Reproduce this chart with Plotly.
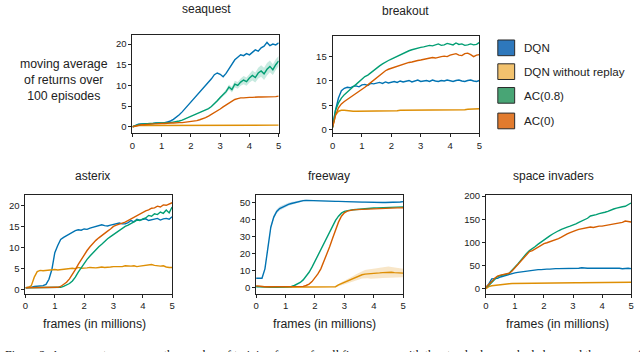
import plotly.graph_objects as go

# ---------------- data ----------------
frames = [round(i * 0.1, 1) for i in range(51)]  # frames (in millions)

series_names = ["DQN", "DQN without replay", "AC(0.8)", "AC(0)"]
line_colors = ["#0173B2", "#DE8F05", "#029E73", "#D55E00"]
swatch_colors = ["#2E78BC", "#F2C26E", "#48A575", "#E27B2E"]

game_titles = ["seaquest", "breakout", "asterix", "freeway", "space invaders"]

# seaquest
sq_dqn = [0.0, 0.4, 0.6, 0.7, 0.7, 0.8, 0.8, 0.8, 0.9, 0.9,
          1.0, 1.0, 1.2, 1.4, 1.8, 2.3, 2.9, 3.6, 4.4, 5.2,
          6.0, 6.8, 7.6, 8.3, 9.0, 9.8, 10.6, 11.6, 12.6, 13.0,
          12.7, 12.1, 12.9, 14.0, 15.2, 16.2, 16.8, 17.4, 17.2, 17.7,
          17.4, 18.0, 18.6, 18.3, 19.1, 19.5, 20.4, 19.6, 20.0, 19.8,
          20.3]
sq_norep = [0.0, 0.2, 0.3, 0.3, 0.3, 0.3, 0.3, 0.3, 0.3, 0.3,
            0.3, 0.3, 0.3, 0.3, 0.3, 0.3, 0.3, 0.3, 0.3, 0.3,
            0.3, 0.3, 0.3, 0.3, 0.3, 0.3, 0.3, 0.3, 0.3, 0.3,
            0.3, 0.3, 0.3, 0.3, 0.3, 0.3, 0.3, 0.3, 0.4, 0.4,
            0.4, 0.4, 0.4, 0.4, 0.4, 0.4, 0.4, 0.4, 0.4, 0.4,
            0.4]
sq_ac08 = [0.0, 0.3, 0.5, 0.6, 0.7, 0.7, 0.8, 0.8, 0.9, 0.9,
           0.9, 1.0, 1.0, 1.0, 1.1, 1.2, 1.4, 1.6, 1.9, 2.2,
           2.5, 2.8, 3.1, 3.4, 3.7, 4.0, 4.4, 4.9, 5.5, 6.3,
           7.1, 7.8, 8.5, 9.6, 9.0, 10.3, 10.0, 10.8, 11.3, 10.9,
           11.8, 12.4, 11.9, 13.0, 13.5, 12.8, 13.9, 14.6, 13.8, 15.0,
           15.9]
sq_ac08_err = [0, 0, 0, 0, 0, 0, 0, 0, 0, 0,
               0, 0, 0, 0, 0, 0, 0, 0, 0, 0,
               0, 0, 0, 0, 0, 0, 0, 0.1, 0.2, 0.3,
               0.3, 0.4, 0.5, 0.6, 0.7, 0.8, 0.8, 0.9, 1.0, 1.0,
               1.1, 1.2, 1.2, 1.3, 1.4, 1.5, 1.5, 1.4, 1.3, 1.3,
               1.2]
sq_ac0 = [0.0, 0.2, 0.4, 0.5, 0.5, 0.6, 0.6, 0.7, 0.7, 0.8,
          0.8, 0.8, 0.9, 0.9, 0.9, 1.0, 1.0, 1.0, 1.1, 1.1,
          1.2, 1.3, 1.5, 1.7, 1.9, 2.2, 2.6, 3.0, 3.4, 3.8,
          4.3, 4.8, 5.3, 5.8, 6.2, 6.6, 6.8, 7.0, 7.0, 7.1,
          7.1, 7.1, 7.2, 7.2, 7.2, 7.2, 7.3, 7.3, 7.3, 7.3,
          7.4]

# breakout
bo_dqn = [0.5, 4.0, 6.5, 8.0, 8.5, 8.7, 8.6, 8.9, 9.0, 8.8,
          9.2, 9.3, 9.1, 9.5, 9.4, 9.6, 9.7, 9.5, 9.8, 9.6,
          9.8, 9.9, 9.7, 10.0, 9.8, 9.9, 10.1, 9.8, 10.0, 10.2,
          9.9, 10.0, 10.1, 9.9, 10.2, 10.0, 9.9, 10.1, 10.0, 10.2,
          10.0, 9.9, 10.1, 10.2, 10.0, 9.9, 10.1, 10.2, 10.0, 9.9,
          10.1]
bo_norep = [0.5, 3.0, 3.8, 4.0, 4.0, 3.9, 3.8, 3.8, 3.8, 3.8,
            3.8, 3.8, 3.8, 3.8, 3.9, 3.9, 3.9, 3.9, 3.9, 3.9,
            3.9, 3.9, 3.9, 4.0, 4.0, 4.0, 4.0, 4.0, 4.0, 4.0,
            4.0, 4.0, 4.0, 4.0, 4.0, 4.0, 4.1, 4.1, 4.1, 4.1,
            4.1, 4.1, 4.1, 4.1, 4.1, 4.1, 4.2, 4.2, 4.3, 4.3,
            4.3]
bo_ac08 = [0.5, 4.0, 5.5, 6.5, 7.2, 7.8, 8.3, 8.8, 9.3, 9.8,
           10.5, 10.9, 11.2, 11.7, 12.1, 12.6, 13.1, 13.5, 13.9, 14.2,
           14.5, 14.8, 15.1, 15.4, 15.7, 15.9, 16.2, 16.4, 16.6, 16.8,
           16.9, 17.0, 17.1, 17.3, 17.2, 17.4, 17.6, 17.3, 17.4, 17.7,
           17.6, 17.4, 17.8, 17.5, 17.6, 17.3, 17.4, 17.6, 17.4, 17.5,
           17.9]
bo_ac0 = [0.5, 3.0, 4.5, 5.3, 5.8, 6.2, 6.6, 7.0, 7.4, 7.9,
          8.3, 8.7, 9.2, 9.7, 10.2, 10.6, 11.2, 11.7, 12.1, 12.4,
          12.6, 12.9, 13.1, 13.2, 13.4, 13.6, 13.8, 13.9, 14.1, 14.2,
          14.3, 14.4, 14.5, 14.7, 14.8, 14.7, 14.9, 15.0, 15.1, 15.0,
          15.3, 15.4, 15.6, 15.3, 15.2, 15.6, 15.7, 15.4, 15.0, 15.3,
          15.4]

# asterix
ax_dqn = [0.5, 0.5, 0.6, 0.8, 0.9, 1.0, 1.0, 1.3, 2.5, 4.8,
          8.8, 10.5, 11.9, 12.4, 12.8, 13.3, 13.6, 14.0, 14.2, 14.1,
          14.4, 14.3, 14.6, 14.8, 14.9, 15.1, 15.4, 15.2, 15.1, 15.3,
          15.5, 15.7, 15.8, 15.6, 15.6, 15.9, 16.4, 16.1, 16.7, 16.5,
          16.6, 16.8, 16.4, 16.6, 16.8, 16.9, 16.5, 16.8, 16.9, 16.7,
          17.3]
ax_norep = [0.5, 0.6, 1.0, 3.0, 4.3, 4.6, 4.5, 4.6, 4.6, 4.7,
            4.8, 4.7, 4.8, 4.9, 4.9, 5.0, 5.1, 5.0, 5.3, 5.1,
            5.1, 5.2, 5.3, 5.2, 5.2, 5.3, 5.4, 5.3, 5.3, 5.4,
            5.5, 5.5, 5.4, 5.5, 5.7, 5.6, 5.6, 5.7, 5.5, 5.6,
            5.7, 5.8, 5.9, 6.0, 5.8, 5.7, 5.6, 5.7, 5.4, 5.3,
            5.3]
ax_ac08 = [0.5, 0.5, 0.5, 0.5, 0.5, 0.6, 0.6, 0.6, 0.6, 0.6,
           0.6, 0.6, 0.6, 0.8, 1.1, 1.5, 2.1, 3.0, 4.2, 5.3,
           6.2, 7.2, 8.0, 8.8, 9.5, 10.2, 10.8, 11.5, 12.1, 12.6,
           13.1, 13.5, 14.1, 14.4, 15.0, 15.3, 15.8, 16.1, 16.5, 16.4,
           16.8, 17.0, 17.6, 17.4, 18.0, 17.8, 18.4, 18.1, 18.9, 18.2,
           19.6]
ax_ac0 = [0.5, 0.5, 0.5, 0.5, 0.5, 0.6, 0.6, 0.6, 0.6, 0.6,
          0.6, 0.6, 0.8, 1.2, 1.8, 2.6, 3.6, 4.8, 6.0, 7.2,
          8.4, 9.3, 10.2, 11.0, 11.7, 12.3, 12.9, 13.4, 13.9, 14.4,
          15.0, 15.3, 15.6, 15.8, 16.0, 16.4, 16.8, 17.2, 17.6, 17.9,
          18.3, 18.7, 18.9, 19.3, 19.4, 19.8, 19.6, 20.1, 20.0, 20.3,
          20.6]

# freeway
fw_dqn = [5.5, 5.5, 5.5, 11.0, 25.0, 35.5, 41.5, 44.8, 46.5, 47.5,
          48.3, 49.0, 49.5, 50.0, 50.4, 50.8, 51.2, 51.3, 51.2, 51.1,
          51.1, 51.0, 51.0, 50.9, 50.9, 50.8, 50.8, 50.7, 50.7, 50.6,
          50.6, 50.6, 50.5, 50.5, 50.4, 50.4, 50.3, 50.3, 50.2, 50.2,
          50.2, 50.1, 50.1, 50.1, 50.1, 50.1, 50.2, 50.2, 50.3, 50.4,
          50.6]
fw_dqn_err = [0, 0, 0, 0, 0.5, 1.0, 1.2, 1.2, 1.2, 1.0,
              1.0, 0.9, 0.8, 0.7, 0.6, 0.5, 0.5, 0.4, 0.4, 0.4,
              0.3, 0.3, 0.3, 0.3, 0.3, 0.3, 0.3, 0.3, 0.3, 0.3,
              0.3, 0.3, 0.3, 0.3, 0.3, 0.3, 0.3, 0.3, 0.3, 0.3,
              0.3, 0.3, 0.3, 0.3, 0.3, 0.3, 0.3, 0.3, 0.3, 0.3,
              0.3]
fw_norep = [0.8, 0.6, 0.4, 0.3, 0.2, 0.2, 0.2, 0.2, 0.2, 0.2,
            0.2, 0.2, 0.2, 0.2, 0.2, 0.2, 0.2, 0.2, 0.2, 0.2,
            0.2, 0.2, 0.2, 0.2, 0.2, 0.2, 0.2, 0.5, 1.5, 2.3,
            3.0, 3.6, 4.3, 5.2, 6.0, 6.8, 7.5, 7.9, 8.0, 7.9,
            8.1, 8.3, 8.6, 8.8, 9.0, 9.2, 9.0, 8.8, 8.7, 8.6,
            8.5]
fw_norep_err = [0, 0, 0, 0, 0, 0, 0, 0, 0, 0,
                0, 0, 0, 0, 0, 0, 0, 0, 0, 0,
                0, 0, 0, 0, 0, 0, 0, 0.3, 0.6, 0.8,
                1.0, 1.2, 1.4, 1.6, 1.8, 2.0, 2.2, 2.4, 2.6, 2.8,
                2.8, 3.0, 3.1, 3.2, 3.2, 3.2, 3.1, 3.0, 2.8, 2.6,
                2.5]
fw_ac08 = [0.5, 0.4, 0.3, 0.3, 0.3, 0.3, 0.3, 0.3, 0.3, 0.3,
           0.3, 0.3, 0.6, 1.2, 2.0, 3.0, 4.5, 6.5, 9.0, 12.0,
           15.5, 19.0, 22.5, 26.0, 29.5, 33.0, 36.5, 39.5, 42.0, 43.8,
           44.8, 45.3, 45.6, 45.8, 46.0, 46.2, 46.3, 46.5, 46.6, 46.7,
           46.8, 46.9, 47.0, 47.0, 47.1, 47.2, 47.2, 47.3, 47.3, 47.4,
           47.5]
fw_ac0 = [1.0, 0.7, 0.5, 0.5, 0.5, 0.5, 0.5, 0.5, 0.5, 0.5,
          0.5, 0.5, 0.5, 0.5, 0.5, 0.5, 0.7, 1.2, 2.0, 3.5,
          5.5, 8.0, 11.0, 15.0, 19.5, 24.0, 29.0, 34.0, 38.5, 42.0,
          44.0, 45.0, 45.5, 45.7, 45.9, 46.0, 46.1, 46.2, 46.3, 46.4,
          46.5, 46.5, 46.6, 46.6, 46.7, 46.7, 46.8, 46.8, 46.9, 46.9,
          47.0]

# space invaders
si_dqn = [2, 10, 21, 21, 22, 25, 27, 28, 30, 32,
          34, 35, 36, 37, 38, 39, 40, 40, 41, 41,
          42, 42, 42, 43, 43, 43, 43, 44, 44, 44,
          44, 44, 44, 45, 44, 44, 44, 44, 45, 44,
          44, 44, 44, 44, 44, 44, 44, 43, 44, 44,
          43]
si_norep = [0, 4, 6, 7, 8, 9, 9.5, 10, 10.5, 11,
            11, 11.2, 11.4, 11.6, 11.8, 12, 12, 12, 12, 12,
            12, 12.2, 12.2, 12.3, 12.3, 12.4, 12.4, 12.5, 12.5, 12.5,
            12.6, 12.6, 12.7, 12.7, 12.8, 12.8, 12.9, 12.9, 13, 13,
            13, 13.1, 13.1, 13.2, 13.2, 13.3, 13.3, 13.4, 13.4, 13.5,
            13.5]
si_ac08 = [3, 7, 13, 20, 26, 28, 29, 31, 33, 39,
           46, 53, 61, 69, 76, 82, 86, 91, 96, 101,
           105, 110, 114, 118, 122, 125, 128, 131, 133, 135,
           137, 140, 143, 146, 149, 152, 157, 158, 160, 162,
           163, 165, 167, 170, 172, 174, 176, 177, 178, 181,
           185]
si_ac0 = [3, 8, 15, 22, 27, 29, 30, 31, 33, 38,
          45, 52, 60, 68, 75, 80, 82, 86, 90, 94,
          97, 99, 101, 104, 106, 108, 111, 115, 118, 121,
          124, 126, 128, 129, 130, 131, 133, 132, 134, 135,
          135, 136, 138, 139, 140, 140, 141, 143, 146, 145,
          144]

x_ticks = [0, 1, 2, 3, 4, 5]
y_ticks = [
    [0, 5, 10, 15, 20],
    [0, 5, 10, 15],
    [0, 5, 10, 15, 20],
    [0, 10, 20, 30, 40, 50],
    [0, 50, 100, 150, 200],
]

game_series = [
    [sq_dqn, sq_norep, sq_ac08, sq_ac0],
    [bo_dqn, bo_norep, bo_ac08, bo_ac0],
    [ax_dqn, ax_norep, ax_ac08, ax_ac0],
    [fw_dqn, fw_norep, fw_ac08, fw_ac0],
    [si_dqn, si_norep, si_ac08, si_ac0],
]
# shaded bands: (panel index, series index, half-width)
bands = [
    (0, 2, sq_ac08_err),
    (3, 0, fw_dqn_err),
    (3, 1, fw_norep_err),
]

# ---------------- layout (pixels) ----------------
W, H = 640, 352
# (left, right, top, bottom) in px and y range
panel_box = [
    (130.7, 278.3, 31, 131, [-1.6, 22.1]),
    (332.7, 481.0, 31.5, 131, [-0.75, 19.25]),
    (22.7, 170.7, 194, 294.5, [-0.9, 22.4]),
    (255.5, 404.0, 194, 294.5, [-3.6, 54.4]),
    (487.5, 634.0, 194, 294.5, [-11, 202]),
]
title_pos = [(205.5, 4.5), (406, 6.5), (90, 174), (329, 174), (555.7, 174)]

FONT = "Liberation Sans, Arial, Helvetica, sans-serif"

def px(x):
    return x / W

def py(y):
    return 1 - y / H

def hex_rgba(h, a):
    h = h.lstrip("#")
    return "rgba(%d,%d,%d,%s)" % (int(h[0:2], 16), int(h[2:4], 16), int(h[4:6], 16), a)

fig = go.Figure()

for p, series in enumerate(game_series):
    xa = "x" if p == 0 else "x%d" % (p + 1)
    ya = "y" if p == 0 else "y%d" % (p + 1)
    for (bp, si, err) in bands:
        if bp != p:
            continue
        center = series[si]
        upper = [c + e for c, e in zip(center, err)]
        lower = [c - e for c, e in zip(center, err)]
        fig.add_trace(go.Scatter(
            x=frames + frames[::-1], y=upper + lower[::-1],
            fill="toself", fillcolor=hex_rgba(line_colors[si], 0.22),
            line=dict(width=0), mode="lines", hoverinfo="skip",
            showlegend=False, xaxis=xa, yaxis=ya))
    for si, vals in enumerate(series):
        fig.add_trace(go.Scatter(
            x=frames, y=vals, mode="lines", name=series_names[si],
            line=dict(color=line_colors[si], width=1.4),
            showlegend=False, xaxis=xa, yaxis=ya))

layout = dict(
    width=W, height=H,
    margin=dict(l=0, r=0, t=0, b=0),
    paper_bgcolor="white", plot_bgcolor="white",
    showlegend=False,
    font=dict(family=FONT, color="#222"),
)

axis_common = dict(
    showline=True, linecolor="#222", linewidth=1, mirror=True,
    showgrid=False, zeroline=False,
    ticks="outside", ticklen=3, tickwidth=1, tickcolor="#222",
    tickfont=dict(size=9.5, family=FONT, color="#222"),
)

for p, (l, r, t, b, yr) in enumerate(panel_box):
    xk = "xaxis" if p == 0 else "xaxis%d" % (p + 1)
    yk = "yaxis" if p == 0 else "yaxis%d" % (p + 1)
    ya = "y" if p == 0 else "y%d" % (p + 1)
    xa = "x" if p == 0 else "x%d" % (p + 1)
    layout[xk] = dict(axis_common, domain=[px(l), px(r)], range=[0, 5],
                      tickvals=x_ticks, anchor=ya)
    layout[yk] = dict(axis_common, domain=[py(b), py(t)], range=yr,
                      tickvals=y_ticks[p], anchor=xa)

annotations = []
for p, (tx, ty) in enumerate(title_pos):
    annotations.append(dict(text=game_titles[p], x=px(tx), y=py(ty), xref="paper", yref="paper",
                            xanchor="center", yanchor="middle", showarrow=False,
                            font=dict(size=12, family=FONT, color="#222")))

annotations.append(dict(text="moving average<br>of returns over<br>100 episodes",
                        x=px(62), y=py(77), xref="paper", yref="paper",
                        xanchor="center", yanchor="middle", showarrow=False, align="center",
                        font=dict(size=12.3, family=FONT, color="#222")))

for cx in [92.5, 324.5, 560]:
    annotations.append(dict(text="frames (in millions)", x=px(cx), y=py(325.5),
                            xref="paper", yref="paper", xanchor="center", yanchor="middle",
                            showarrow=False, font=dict(size=12.3, family=FONT, color="#222")))

# legend (manual)
shapes = []
legend_rows = [43.7, 68, 92.2, 118.3]
for i, name in enumerate(series_names):
    cy = legend_rows[i]
    shapes.append(dict(type="rect", xref="paper", yref="paper",
                       x0=px(499.5), x1=px(516.5), y0=py(cy + 8), y1=py(cy - 8),
                       fillcolor=swatch_colors[i], line=dict(color="#2a2a2a", width=1)))
    annotations.append(dict(text=name, x=px(523.5), y=py(cy), xref="paper", yref="paper",
                            xanchor="left", yanchor="middle", showarrow=False,
                            font=dict(size=11.6, family=FONT, color="#222")))

# caption (cut off at the bottom edge, as in the reference)
annotations.append(dict(
    text="Figure 2: Average returns versus the number of training frames for all five games, with the standard error shaded around the mean of the runs for each of the four agents.",
    x=0, y=py(357.5), xref="paper", yref="paper", xanchor="left", yanchor="middle",
    showarrow=False, font=dict(size=12, family="Liberation Serif, Times New Roman, serif", color="#111")))

layout["annotations"] = annotations
layout["shapes"] = shapes
fig.update_layout(**layout)

fig.write_html("out.html",
               config={"displayModeBar": False},
               post_script="document.body.style.margin='0';document.body.style.overflow='hidden';")
